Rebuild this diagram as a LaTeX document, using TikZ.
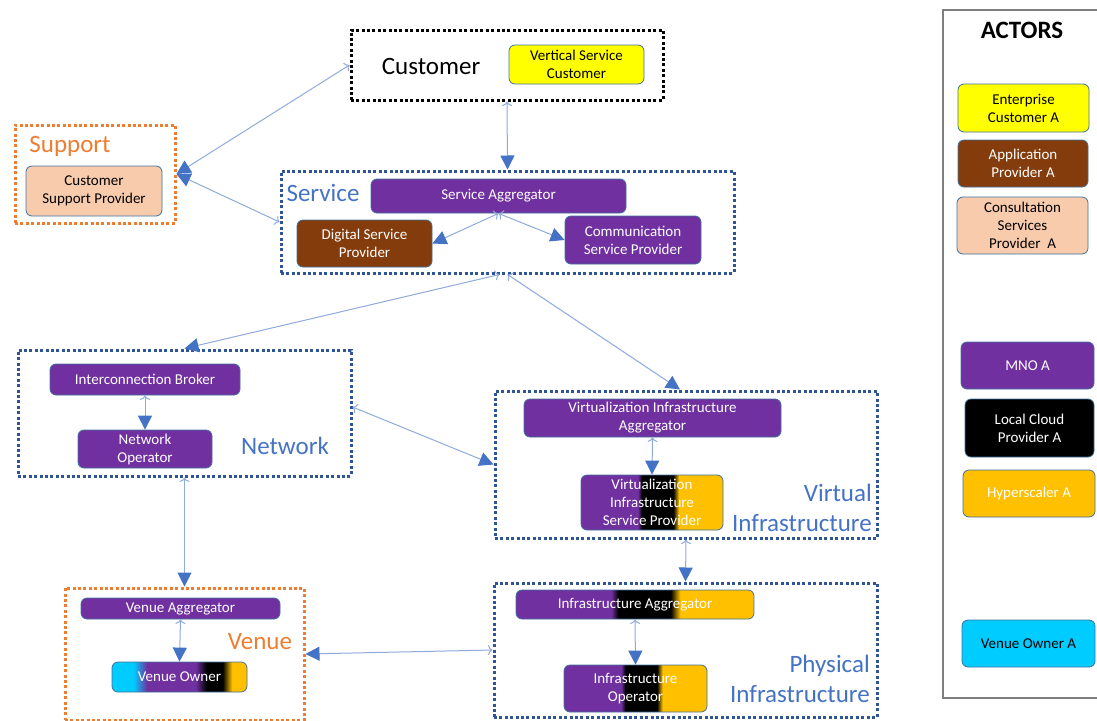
\documentclass[tikz,border=0pt]{standalone}
\usepackage{fontspec}
\setmainfont{Carlito}
\usetikzlibrary{arrows.meta,calc}
\definecolor{mpurple}{HTML}{7030A0}
\definecolor{mbrown}{HTML}{843C0C}
\definecolor{mpeach}{HTML}{F8CBAD}
\definecolor{myellow}{HTML}{FFFF00}
\definecolor{mgold}{HTML}{FFC000}
\definecolor{mcyan}{HTML}{00CCFF}
\definecolor{mborder}{HTML}{41719C}
\definecolor{dblue}{HTML}{2F5597}
\definecolor{morange}{HTML}{ED7D31}
\definecolor{lblue}{HTML}{4472C4}
\definecolor{linec}{HTML}{8FAADC}
\definecolor{pgrey}{HTML}{7F7F7F}
\pgfdeclarehorizontalshading{pbg}{100bp}{rgb(0bp)=(0.439,0.188,0.627); rgb(45bp)=(0.439,0.188,0.627); rgb(46.5bp)=(0,0,0); rgb(57.5bp)=(0,0,0); rgb(59.5bp)=(1,0.753,0); rgb(100bp)=(1,0.753,0)}
\pgfdeclarehorizontalshading{cpbg}{100bp}{rgb(0bp)=(0,0.8,1); rgb(33bp)=(0,0.8,1); rgb(38bp)=(0.439,0.188,0.627); rgb(56bp)=(0.439,0.188,0.627); rgb(60bp)=(0,0,0); rgb(66bp)=(0,0,0); rgb(69.5bp)=(1,0.753,0); rgb(100bp)=(1,0.753,0)}
\tikzset{
  box/.style={rounded corners=6pt, draw=mborder, line width=0.8pt, align=center, inner sep=0pt, font=\fontsize{15}{18}\selectfont},
  pbox/.style={box, fill=mpurple, text=white},
  brbox/.style={box, fill=mbrown, text=white},
  ybox/.style={box, fill=myellow, text=black},
  pchbox/.style={box, fill=mpeach, text=black},
  blkbox/.style={box, fill=black, text=white},
  gbox/.style={box, fill=mgold, text=white},
  cbox/.style={box, fill=mcyan, text=black},
  grbox/.style={box, shading=pbg, shade, text=white},
  vobox/.style={box, shading=cpbg, shade, text=white},
  dotbox/.style={line width=3pt, dash pattern=on 3pt off 2.4pt, inner sep=0pt},
  bluegrp/.style={dotbox, draw=dblue},
  orgrp/.style={dotbox, draw=morange},
  blkgrp/.style={dotbox, draw=black},
  biglabel/.style={font=\fontsize{25}{30}\selectfont, inner sep=0pt, align=center},
  conn/.style={draw=linec, line width=1pt, arrows={To[length=4.5pt,width=10pt,color=linec]-Triangle[length=14pt,width=14pt,color=lblue]}}
}
\begin{document}
\begin{tikzpicture}[x=1pt,y=-1pt]
\useasboundingbox (0,0) rectangle (1097,720);
% groups
\node[blkgrp, minimum width=312pt, minimum height=70pt] (custg) at (507,65) {};
\node[orgrp, minimum width=160pt, minimum height=98pt] (supg) at (95,174) {};
\node[bluegrp, minimum width=453pt, minimum height=102pt] (serg) at (507.5,222) {};
\node[bluegrp, minimum width=333pt, minimum height=126pt] (netg) at (184.5,413) {};
\node[bluegrp, minimum width=382pt, minimum height=147pt] (virg) at (686,464.5) {};
\node[bluegrp, minimum width=383pt, minimum height=134pt] (phyg) at (685.5,650) {};
\node[orgrp, minimum width=239pt, minimum height=132pt] (veng) at (184.5,654) {};
% labels
\node[biglabel, text=black] (lcust) at (431,66) {Customer};
\node[biglabel, text=morange] (lsup) at (70,146) {Support};
\node[biglabel, text=lblue] (lser) at (323,193) {Service};
\node[biglabel, text=lblue] (lnet) at (285,446) {Network};
\node[biglabel, text=lblue, align=right, anchor=east] (lvir) at (872,508) {Virtual\\Infrastructure};
\node[biglabel, text=lblue, align=right, anchor=east] (lphy) at (870,679) {Physical\\Infrastructure};
\node[biglabel, text=morange] (lven) at (260,642) {Venue};
% inner boxes
\node[ybox, minimum width=135pt, minimum height=39pt] (vsc) at (576.5,64.5) {Vertical Service\\Customer};
\node[pchbox, minimum width=136pt, minimum height=50pt] (csp) at (94,191) {Customer\\Support Provider};
\node[pbox, minimum width=255pt, minimum height=34pt] (sa) at (498.5,196) {Service Aggregator};
\node[brbox, minimum width=135pt, minimum height=47pt] (dsp) at (364.5,243.5) {Digital Service\\Provider};
\node[pbox, minimum width=136pt, minimum height=48pt] (comm) at (633,240) {Communication\\Service Provider};
\node[pbox, minimum width=190pt, minimum height=31pt] (ib) at (145,379.5) {Interconnection Broker};
\node[pbox, minimum width=134pt, minimum height=38pt] (no) at (145,449) {Network\\Operator};
\node[pbox, minimum width=257pt, minimum height=38pt] (via) at (652.5,418) {Virtualization Infrastructure\\Aggregator};
\node[grbox, minimum width=142pt, minimum height=55pt] (visp) at (652,502.5) {Virtualization\\Infrastructure\\Service Provider};
\node[grbox, minimum width=238pt, minimum height=29pt] (ia) at (635,604.5) {Infrastructure Aggregator};
\node[grbox, minimum width=143pt, minimum height=47pt] (io) at (635.5,688.5) {Infrastructure\\Operator};
\node[pbox, minimum width=199pt, minimum height=21pt] (va) at (180.5,608.5) {Venue Aggregator};
\node[vobox, minimum width=135pt, minimum height=30pt] (vo) at (179.5,677) {Venue Owner};
% actors panel
\draw[pgrey, line width=1.2pt] (1099,10) -- (943,10) -- (943,698) -- (1099,698);
\node[font=\fontsize{25}{30}\selectfont\bfseries, inner sep=0pt] (actors) at (1022,30) {ACTORS};
\node[ybox, minimum width=131pt, minimum height=48pt] (eca) at (1023.5,108) {Enterprise\\Customer A};
\node[brbox, minimum width=130pt, minimum height=47pt] (apa) at (1023,163.5) {Application\\Provider A};
\node[pchbox, minimum width=131pt, minimum height=57pt] (csa) at (1022.5,225.5) {Consultation\\Services\\Provider~ A};
\node[pbox, minimum width=133pt, minimum height=47pt] (mno) at (1027.5,365.5) {MNO A};
\node[blkbox, minimum width=129pt, minimum height=58pt] (lcp) at (1029.5,428) {Local Cloud\\Provider A};
\node[gbox, minimum width=132pt, minimum height=47pt] (hyp) at (1029,493.5) {Hyperscaler A};
\node[cbox, minimum width=133pt, minimum height=47pt] (voa) at (1028.5,643.5) {Venue Owner A};
% connectors
\draw[conn] (custg.west) -- (supg.east);
\draw[conn] (serg.west) -- (supg.east);
\draw[conn] (custg.south) -- (serg.north);
\draw[conn] (sa.south) -- (dsp.east);
\draw[conn] (sa.south) -- (comm.west);
\draw[conn] ($(serg.south)+(-8,0)$) -- (netg.north);
\draw[conn] (serg.south) -- ($(virg.north)+(-6,0)$);
\draw[conn] (ib.south) -- (no.north);
\draw[conn] ($(netg.east)+(0,-6)$) -- (virg.west);
\draw[conn] (netg.south) -- (veng.north);
\draw[conn] (via.south) -- (visp.north);
\draw[conn] (virg.south) -- (phyg.north);
\draw[conn] (ia.south) -- (io.north);
\draw[conn] (phyg.west) -- (veng.east);
\draw[conn] (va.south) -- (vo.north);
\end{tikzpicture}
\end{document}
